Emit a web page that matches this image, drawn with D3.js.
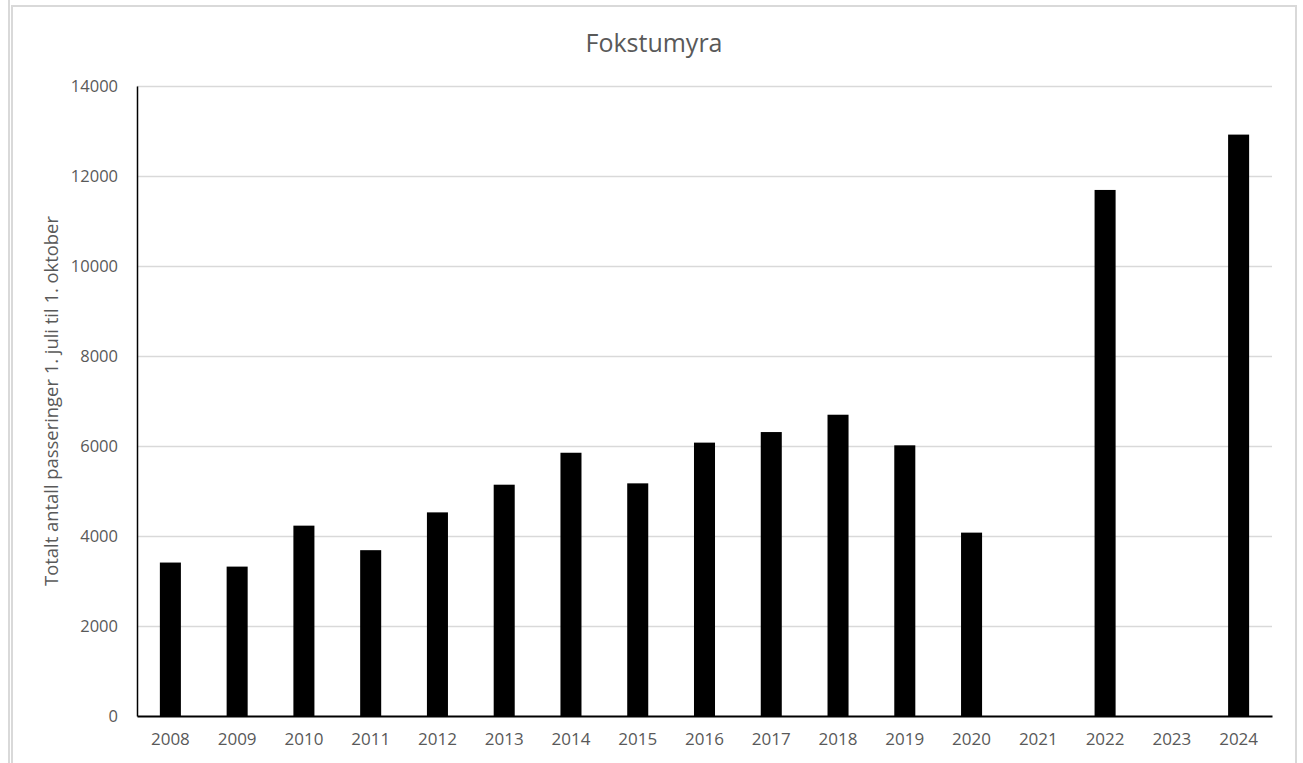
<!DOCTYPE html>
<html>
<head>
<meta charset="utf-8">
<script src="https://cdn.jsdelivr.net/npm/d3@7"></script>
<style>
  body { margin: 0; background: #fff; }
  text { font-family: "Open Sans", sans-serif; fill: #595959; }
</style>
</head>
<body>
<div id="chart"></div>
<script>
// Data
const years = ["2008", "2009", "2010", "2011", "2012", "2013", "2014", "2015", "2016",
  "2017", "2018", "2019", "2020", "2021", "2022", "2023", "2024"];
const passings = [3410, 3320, 4230, 3685, 4525, 5140, 5850, 5170, 6075,
  6310, 6695, 6015, 4075, null, 11690, null, 12920];
const yTicks = [0, 2000, 4000, 6000, 8000, 10000, 12000, 14000];

const chartTitle = "Fokstumyra";
const yTitle = "Totalt antall passeringer 1. juli til 1. oktober";

const W = 1303, H = 763;
const margin = { top: 86, right: 31, bottom: 47, left: 137 };
const width = W - margin.left - margin.right;
const height = H - margin.top - margin.bottom;

const svg = d3.select("#chart").append("svg")
  .attr("width", W)
  .attr("height", H);

// Chart frame
svg.append("line")
  .attr("x1", 9).attr("x2", 9).attr("y1", 0).attr("y2", H)
  .attr("stroke", "#d9d9d9").attr("stroke-width", 2);
svg.append("path")
  .attr("d", `M12,${H} V6 H1296 V${H}`)
  .attr("fill", "none")
  .attr("stroke", "#d9d9d9").attr("stroke-width", 2);

const chart = svg.append("g")
  .attr("transform", `translate(${margin.left},${margin.top})`);

// Scales
const xScale = d3.scaleBand()
  .domain(years)
  .range([0, width])
  .paddingInner(0.685)
  .paddingOuter(0.3425);

const yScale = d3.scaleLinear()
  .domain([0, 14000])
  .range([height, 0]);

// Gridlines
chart.append("g")
  .attr("class", "grid")
  .call(d3.axisLeft(yScale).tickValues(yTicks.slice(1)).tickSize(-width).tickFormat(""))
  .call(g => g.select(".domain").remove())
  .call(g => g.selectAll("line").attr("stroke", "#d9d9d9").attr("stroke-width", 1.5));

// Bars
chart.selectAll(".bar")
  .data(years.map((y, i) => ({ year: y, value: passings[i] })).filter(d => d.value != null))
  .enter()
  .append("rect")
  .attr("class", "bar")
  .attr("x", d => xScale(d.year))
  .attr("y", d => yScale(d.value))
  .attr("width", xScale.bandwidth())
  .attr("height", d => height - yScale(d.value))
  .attr("fill", "#000");

// Y axis
const yAxisGroup = chart.append("g")
  .call(d3.axisLeft(yScale).tickValues(yTicks).tickSize(0).tickPadding(19).tickFormat(d3.format("d")));
yAxisGroup.select(".domain").attr("stroke", "#000").attr("stroke-width", 1.5);
yAxisGroup.selectAll("text")
  .style("font-size", "16.5px")
  .style("fill", "#595959");

// X axis
const xAxisGroup = chart.append("g")
  .attr("transform", `translate(0,${height})`)
  .call(d3.axisBottom(xScale).tickSize(0).tickPadding(17));
xAxisGroup.select(".domain").attr("stroke", "#000").attr("stroke-width", 2);
xAxisGroup.selectAll("text")
  .style("font-size", "17px")
  .style("fill", "#595959");

// Title
svg.append("text")
  .attr("x", 654)
  .attr("y", 52)
  .attr("text-anchor", "middle")
  .style("font-size", "25px")
  .text(chartTitle);

// Y axis title
svg.append("text")
  .attr("transform", `translate(58,${margin.top + height / 2}) rotate(-90)`)
  .attr("text-anchor", "middle")
  .style("font-size", "18.4px")
  .text(yTitle);
</script>
</body>
</html>
